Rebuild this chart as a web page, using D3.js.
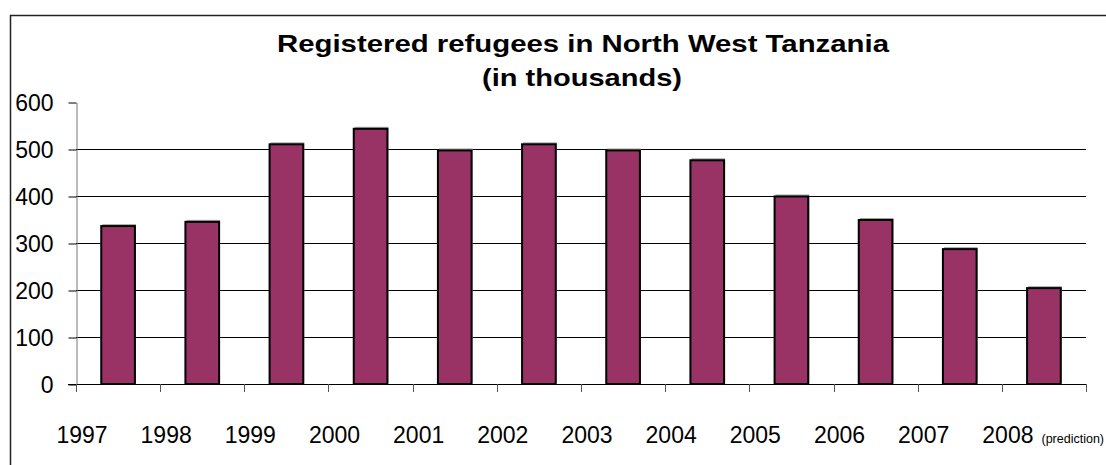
<!DOCTYPE html>
<html>
<head>
<meta charset="utf-8">
<script src="https://d3js.org/d3.v7.min.js"></script>
<style>
  body { margin: 0; background: #fff; }
  svg text { font-family: "Liberation Sans", Arial, sans-serif; fill: #000; }
</style>
</head>
<body>
<script>
// data (thousands)
var years = ["1997", "1998", "1999", "2000", "2001", "2002", "2003", "2004", "2005", "2006", "2007", "2008"];
var refugees = [336, 345, 510, 543, 497, 510, 497, 476, 399, 349, 287, 204];
var yTicks = [0, 100, 200, 300, 400, 500, 600];

var width = 1106, height = 465;
var plotL = 76, plotR = 1086, plotT = 102, plotB = 384;

var svg = d3.select("body").append("svg")
    .attr("width", width)
    .attr("height", height);

// outer chart border (right and bottom run off the page)
svg.append("rect")
    .attr("x", 10.5).attr("y", 15.5)
    .attr("width", 1120).attr("height", 470)
    .attr("fill", "none")
    .attr("stroke", "#222")
    .attr("stroke-width", 1.5);

var x = d3.scaleBand()
    .domain(years)
    .range([plotL, plotR])
    .paddingInner(0.6)
    .paddingOuter(0.3);

var y = d3.scaleLinear()
    .domain([0, 600])
    .range([plotB, plotT]);

var step = x.step(), bw = x.bandwidth();

// gridlines
svg.append("g").selectAll("line")
    .data(yTicks.filter(function(d) { return d > 0 && d < 600; }))
  .enter().append("line")
    .attr("x1", plotL).attr("x2", plotR)
    .attr("y1", function(d) { return Math.round(y(d)) + 0.5; })
    .attr("y2", function(d) { return Math.round(y(d)) + 0.5; })
    .attr("stroke", "#000");

// y axis
var yAxis = svg.append("g")
    .attr("transform", "translate(" + (plotL + 0.5) + ",0.5)")
    .call(d3.axisLeft(y).tickValues(yTicks).tickSize(8).tickPadding(15).tickSizeOuter(0));
yAxis.select(".domain").attr("stroke", "#777");
yAxis.selectAll(".tick line").attr("stroke", "#000");
yAxis.selectAll(".tick text")
    .attr("font-family", null)
    .attr("font-size", null)
    .style("font-size", "23px")
    .attr("dy", "0.36em");

// bars: faint shadow then fill
svg.append("g").selectAll("rect")
    .data(refugees)
  .enter().append("rect")
    .attr("x", function(d, i) { return x(years[i]) + 1; })
    .attr("y", function(d) { return y(d) - 2; })
    .attr("width", bw)
    .attr("height", function(d) { return plotB - y(d); })
    .attr("fill", "#aaa");

svg.append("g").selectAll("rect")
    .data(refugees)
  .enter().append("rect")
    .attr("x", function(d, i) { return x(years[i]); })
    .attr("y", function(d) { return y(d); })
    .attr("width", bw)
    .attr("height", function(d) { return plotB - y(d); })
    .attr("fill", "#993366")
    .attr("stroke", "#000")
    .attr("stroke-width", 2);

// x axis line and ticks at category boundaries
svg.append("line")
    .attr("x1", plotL - 8).attr("x2", plotR)
    .attr("y1", plotB + 0.5).attr("y2", plotB + 0.5)
    .attr("stroke", "#000");

var bounds = years.map(function(d) { return x(d) + bw / 2 - step / 2; });
bounds.push(bounds[bounds.length - 1] + step);
svg.append("g").selectAll("line")
    .data(bounds)
  .enter().append("line")
    .attr("x1", function(d) { return Math.round(d) + 0.5; })
    .attr("x2", function(d) { return Math.round(d) + 0.5; })
    .attr("y1", plotB).attr("y2", plotB + 8)
    .attr("stroke", "#555");

// year labels sit just right of each left tick
var labels = svg.append("g").selectAll("text")
    .data(years)
  .enter().append("text")
    .attr("x", function(d) { return x(d) + bw / 2 - step / 2 + 6; })
    .attr("y", 443)
    .attr("text-anchor", "middle")
    .style("font-size", "23px")
    .text(function(d) { return d; });

labels.filter(function(d) { return d === "2008"; })
    .attr("text-anchor", "start")
    .attr("x", function(d) { return x(d) + bw / 2 - step / 2 + 6 - 25.5; })
  .append("tspan")
    .style("font-size", "12.5px")
    .attr("dx", 8)
    .text("(prediction)");

// title
svg.append("text")
    .attr("x", 583).attr("y", 52)
    .attr("text-anchor", "middle")
    .attr("textLength", 612)
    .attr("lengthAdjust", "spacingAndGlyphs")
    .style("font-size", "24px")
    .style("font-weight", "bold")
    .text("Registered refugees in North West Tanzania");
svg.append("text")
    .attr("x", 582).attr("y", 86)
    .attr("text-anchor", "middle")
    .attr("textLength", 200)
    .attr("lengthAdjust", "spacingAndGlyphs")
    .style("font-size", "24px")
    .style("font-weight", "bold")
    .text("(in thousands)");
</script>
</body>
</html>
